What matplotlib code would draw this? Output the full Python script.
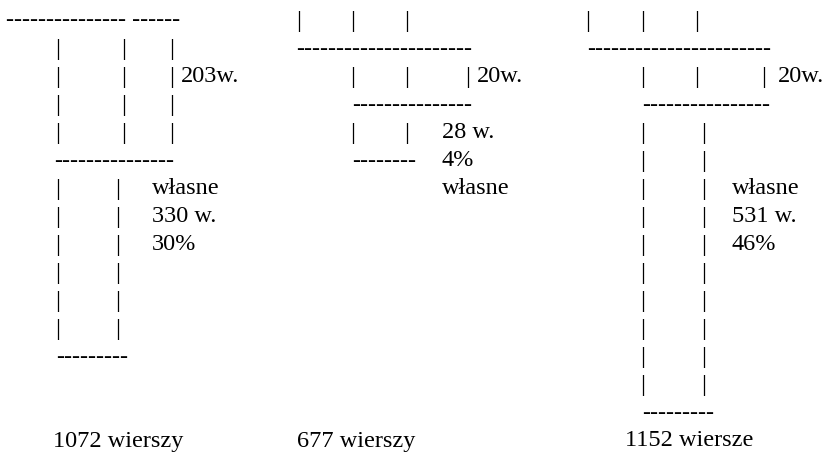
import matplotlib.pyplot as plt

# valores del esquema (wiersze = lineas)
totals = [1072, 677, 1152]
total_words = ["wierszy", "wierszy", "wiersze"]
own_lines = [330, 28, 531]
own_pct = [30, 4, 46]
shared_lines = [203, 20, 20]

plt.rcParams['font.family'] = ['Liberation Serif', 'DejaVu Serif']
FS = 17.5
PITCH = 28.0
TOP = 26.5


def base(row):
    # linea base de cada fila de texto
    return TOP + PITCH * row


fig = plt.figure(figsize=(8.28, 4.54), dpi=100)
ax = fig.add_axes([0, 0, 1, 1])
ax.set_xlim(0, 828)
ax.set_ylim(454, 0)
ax.axis('off')


def txt(x, row, s, ha='left'):
    ax.text(x, base(row), s, fontsize=FS, ha=ha, va='baseline', color='black')


def pipes(xs, rows):
    for r in rows:
        for x in xs:
            txt(x, r, "|", ha='center')


def dashes(x, row, n, extra=0):
    s = "-" * n
    if extra:
        s += " " + "-" * extra
    txt(x, row, s)


# columna 1
dashes(6, 0, 15, 6)
pipes([58, 124, 172], range(1, 5))
txt(181, 2, f"{shared_lines[0]}w.")
dashes(54, 5, 15)
pipes([58, 118], range(6, 12))
txt(152, 6, "własne")
txt(152, 7, f"{own_lines[0]} w.")
txt(152, 8, f"{own_pct[0]}%")
dashes(56, 12, 9)
txt(53, 15, f"{totals[0]} {total_words[0]}")

# columna 2
pipes([299, 353, 407], [0])
dashes(296, 1, 22)
pipes([353, 407, 468], [2])
txt(477, 2, f"{shared_lines[1]}w.")
dashes(352, 3, 15)
pipes([353, 407], [4])
txt(442, 4, f"{own_lines[1]} w.")
dashes(352, 5, 8)
txt(442, 5, f"{own_pct[1]}%")
txt(442, 6, "własne")
txt(297, 15, f"{totals[1]} {total_words[1]}")

# columna 3
pipes([588, 643, 697], [0])
dashes(587, 1, 23)
pipes([643, 697, 764], [2])
txt(778, 2, f"{shared_lines[2]}w.")
dashes(642, 3, 16)
pipes([643, 704], range(4, 14))
txt(732, 6, "własne")
txt(732, 7, f"{own_lines[2]} w.")
txt(732, 8, f"{own_pct[2]}%")
dashes(642, 14, 9)
txt(625, 15, f"{totals[2]} {total_words[2]}")

plt.savefig("out.png", dpi=100, facecolor='white')
